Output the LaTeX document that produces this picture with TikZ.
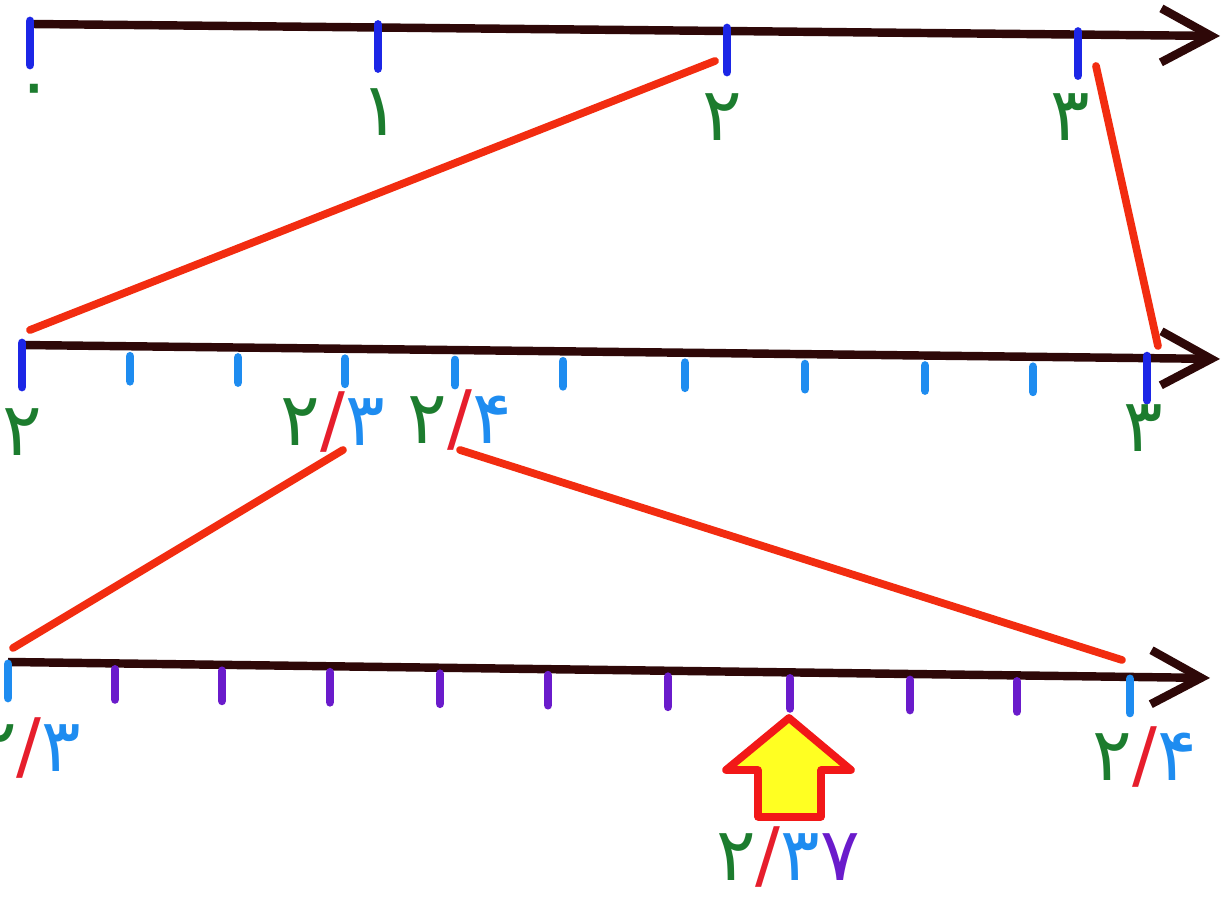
\documentclass[tikz,border=0pt]{standalone}
\usepackage{fontspec}
\usepackage{xcolor}
\usetikzlibrary{arrows.meta,positioning,calc}
\newfontfamily\fadigits[Script=Arabic]{DejaVu Sans}

\definecolor{axisdark}{HTML}{2E0808}
\definecolor{tickblue}{HTML}{1C26E6}
\definecolor{tickcyan}{HTML}{1E8CF0}
\definecolor{tickpurple}{HTML}{6A1BCB}
\definecolor{numgreen}{HTML}{1C7C2E}
\definecolor{linkred}{HTML}{F22C10}
\definecolor{slashred}{HTML}{E61E2C}
\definecolor{pickred}{HTML}{F21818}
\definecolor{pickyellow}{HTML}{FFFF22}

\newcommand{\gd}[1]{\textcolor{numgreen}{#1}}
\newcommand{\bd}[1]{\textcolor{tickcyan}{#1}}
\newcommand{\pd}[1]{\textcolor{tickpurple}{#1}}
\newcommand{\sd}{\textcolor{slashred}{/}}

\begin{document}
\begin{tikzpicture}[x=1cm, y=-1cm,
  axis/.style={draw=axisdark, line width=2.4pt, -{Straight Barb[length=5mm,width=5.4mm]}},
  tickmark/.style={line width=2.5pt, line cap=round},
  link/.style={draw=linkred, line width=2.2pt, line cap=round},
  num/.style={font=\fadigits\fontsize{21}{24}\selectfont, inner sep=0pt}]
\useasboundingbox (0,0) rectangle (12.23,8.99);

% first line: 0 to 3
\coordinate (a1s) at (0.30,0.24);
\coordinate (a1e) at (12.20,0.36);
\draw[axis] (a1s) -- (a1e);
\foreach \x/\n in {0.30/t10, 3.78/t11, 7.27/t12, 10.78/t13}
  \draw[tickmark, tickblue] ($(a1s)!{(\x-0.30)/11.9}!(a1e)$) coordinate (\n) ++(0,-0.03) -- ++(0,0.44);
\node[num, numgreen] (n10) at (0.34,0.97) {۰};
\node[num, numgreen] (n11) at (3.80,1.12) {۱};
\node[num, numgreen] (n12) at (7.22,1.17) {۲};
\node[num, numgreen] (n13) at (10.70,1.17) {۳};

% second line: 2 to 3
\coordinate (a2s) at (0.20,3.45);
\coordinate (a2e) at (12.20,3.59);
\draw[axis] (a2s) -- (a2e);
\foreach \x in {1.30, 2.38, 3.45, 4.55, 5.63, 6.85, 8.05, 9.25, 10.33}
  \draw[tickmark, tickcyan] ($(a2s)!{(\x-0.20)/12.0}!(a2e)$) ++(0,0.10) -- ++(0,0.25);
\foreach \x/\n in {0.22/t20, 11.47/t23}
  \draw[tickmark, tickblue] ($(a2s)!{(\x-0.20)/12.0}!(a2e)$) coordinate (\n) ++(0,-0.02) -- ++(0,0.44);
\node[num, numgreen] (n20) at (0.22,4.32) {۲};
\node[num] (n23) at (3.33,4.22) {\gd{۲}\sd\bd{۳}};
\node[num] (n24) at (4.60,4.20) {\gd{۲}\sd\bd{۴}};
\node[num, numgreen] (n30) at (11.43,4.28) {۳};

% third line: 2/3 to 2/4
\coordinate (a3s) at (0.08,6.62);
\coordinate (a3e) at (12.10,6.78);
\draw[axis] (a3s) -- (a3e);
\foreach \x in {1.15, 2.22, 3.30, 4.40, 5.48, 6.68, 7.90, 9.10, 10.17}
  \draw[tickmark, tickpurple] ($(a3s)!{(\x-0.08)/12.02}!(a3e)$) ++(0,0.06) -- ++(0,0.30);
\foreach \x/\n in {0.08/t33, 11.30/t34}
  \draw[tickmark, tickcyan] ($(a3s)!{(\x-0.08)/12.02}!(a3e)$) coordinate (\n) ++(0,0.02) -- ++(0,0.34);
\node[num, anchor=east] (m23) at (0.82,7.48) {\gd{۲}\sd\bd{۳}};
\node[num] (m24) at (11.45,7.57) {\gd{۲}\sd\bd{۴}};

% zoom links
\coordinate (l1a) at (0.30,3.30);
\coordinate (l1b) at (7.15,0.61);
\coordinate (l2a) at (10.96,0.66);
\coordinate (l2b) at (11.58,3.46);
\coordinate (l3a) at (3.43,4.50);
\coordinate (l3b) at (0.13,6.48);
\coordinate (l4a) at (4.60,4.50);
\coordinate (l4b) at (11.22,6.60);
\draw[link] (l1a) -- (l1b);
\draw[link] (l2a) -- (l2b);
\draw[link] (l3a) -- (l3b);
\draw[link] (l4a) -- (l4b);

% answer
\draw[draw=pickred, fill=pickyellow, line width=2.2pt, line join=round]
  (7.89,7.18) coordinate (pick) -- (8.51,7.70) -- (8.21,7.70) -- (8.21,8.17)
  -- (7.58,8.17) -- (7.58,7.70) -- (7.26,7.70) -- cycle;
\node[num] (ans) at (7.88,8.57) {\gd{۲}\sd\bd{۳}\pd{۷}};
\end{tikzpicture}
\end{document}
